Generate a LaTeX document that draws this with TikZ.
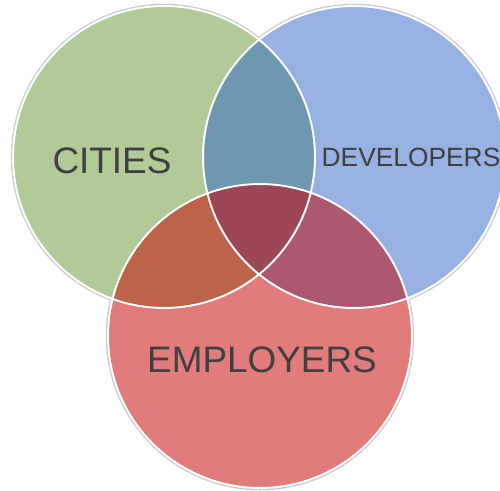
\documentclass[tikz,border=0pt]{standalone}
\usepackage{fontspec}
\setmainfont{Liberation Sans}

\definecolor{citygreen}{RGB}{178,202,152}
\definecolor{devblue}{RGB}{151,177,226}
\definecolor{emplred}{RGB}{226,124,124}
\definecolor{citydev}{RGB}{110,152,176}
\definecolor{cityempl}{RGB}{188,99,74}
\definecolor{devempl}{RGB}{174,88,112}
\definecolor{allthree}{RGB}{156,70,86}

\begin{document}
\begin{tikzpicture}[x=0.02cm, y=-0.02cm,
  rim/.style={draw=gray!40, line width=2.6pt},
  seam/.style={draw=white, line width=1.1pt},
  setname/.style={text=black!75, inner sep=0pt}
]
  \useasboundingbox (0,0) rectangle (500,490);

  % the three sets
  \def\cities{(164,157) circle (3.02cm)}
  \def\devs{(354,157) circle (3.02cm)}
  \def\empls{(260,336) circle (3.04cm)}

  % soft grey outer edge
  \path[rim] \cities;
  \path[rim] \devs;
  \path[rim] \empls;

  % plain fills
  \fill[citygreen] \cities;
  \fill[devblue] \devs;
  \fill[emplred] \empls;

  % pairwise overlaps
  \begin{scope}
    \clip \cities;
    \fill[citydev] \devs;
    \fill[cityempl] \empls;
  \end{scope}
  \begin{scope}
    \clip \devs;
    \fill[devempl] \empls;
  \end{scope}
  % middle
  \begin{scope}
    \clip \cities;
    \clip \devs;
    \fill[allthree] \empls;
  \end{scope}

  % white seams on every circle
  \path[seam] \cities;
  \path[seam] \devs;
  \path[seam] \empls;

  % labels
  \node[setname, font=\fontsize{21}{21}\selectfont] (citylbl) at (112,161) {CITIES};
  \node[setname, font=\fontsize{15}{15}\selectfont] (devlbl) at (411,157) {DEVELOPERS};
  \node[setname, font=\fontsize{21}{21}\selectfont] (empllbl) at (262,360) {EMPLOYERS};
\end{tikzpicture}
\end{document}
